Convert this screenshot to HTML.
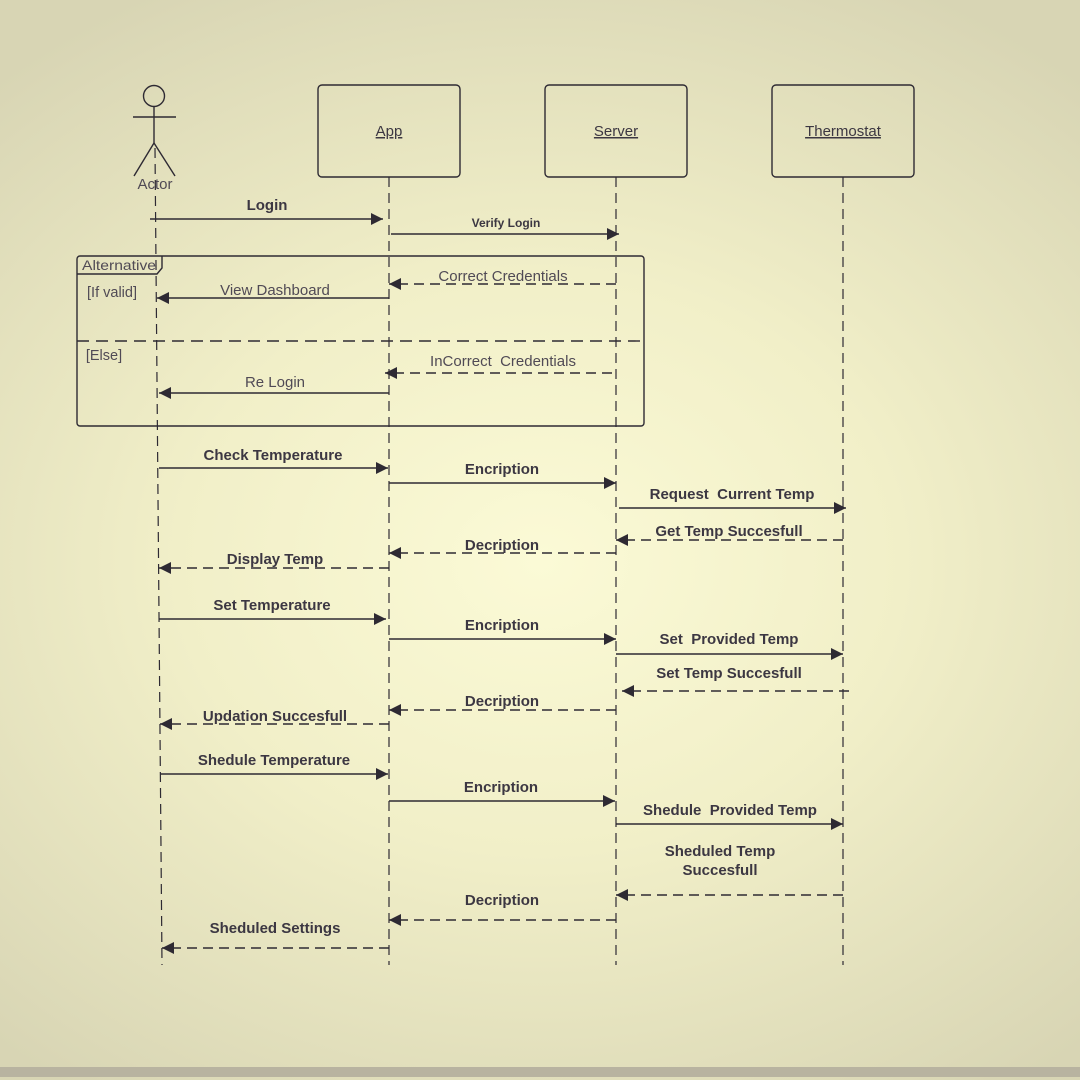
<!DOCTYPE html>
<html><head><meta charset="utf-8"><style>
html,body{margin:0;padding:0;width:1080px;height:1080px;overflow:hidden}
body{background:radial-gradient(ellipse 75% 60% at 50% 52%,#fbfad6 0%,#f1efc8 45%,#d8d5b4 100%)}
svg{position:absolute;left:0;top:0}
text{font-family:"Liberation Sans",sans-serif;fill:#3c3742;text-anchor:middle}
.b{font-weight:bold;font-size:15px}
.n{font-size:15px;fill:#504a55}
.l{stroke:#2e2a33;stroke-width:1.4;fill:none}
.d{stroke:#2e2a33;stroke-width:1.4;fill:none;stroke-dasharray:10,6}
.ll{stroke:#2e2a33;stroke-width:1.2;fill:none;stroke-dasharray:10,6}
</style></head><body>
<div style="position:absolute;left:0;top:1067px;width:1080px;height:10px;background:#b8b3a0"></div>
<svg width="1080" height="1080" viewBox="0 0 1080 1080">
<defs>
<marker id="a2" viewBox="0 0 12 12" refX="12" refY="6" markerWidth="12" markerHeight="12" markerUnits="userSpaceOnUse" orient="auto"><path d="M0,0 L12,6 L0,12z" fill="#2e2a33"/></marker></defs>
<circle cx="154" cy="96" r="10.5" class="l"/>
<line x1="154" y1="107" x2="154" y2="143" class="l"/>
<line x1="133" y1="117" x2="176" y2="117" class="l"/>
<line x1="154" y1="143" x2="134" y2="176" class="l"/>
<line x1="154" y1="143" x2="175" y2="176" class="l"/>
<text x="155" y="189" class="n" style="font-size:15px">Actor</text>
<line x1="155" y1="148" x2="162" y2="965" class="ll"/>
<rect x="318" y="85" width="142" height="92" rx="4" class="l"/>
<rect x="545" y="85" width="142" height="92" rx="4" class="l"/>
<rect x="772" y="85" width="142" height="92" rx="4" class="l"/>
<text x="389" y="136" style="font-size:15px;text-decoration:underline">App</text>
<text x="616" y="136" style="font-size:15px;text-decoration:underline">Server</text>
<text x="843" y="136" style="font-size:15px;text-decoration:underline">Thermostat</text>
<line x1="389" y1="177" x2="389" y2="965" class="ll"/>
<line x1="616" y1="177" x2="616" y2="965" class="ll"/>
<line x1="843" y1="177" x2="843" y2="965" class="ll"/>
<rect x="77" y="256" width="567" height="170" rx="3" class="l"/>
<path d="M77,274 L157,274 L162,268 L162,256" class="l"/>
<text x="119" y="270" class="n" style="font-size:14px" textLength="74" lengthAdjust="spacingAndGlyphs">Alternative</text>
<text x="112" y="297" class="n" style="font-size:14.5px">[If valid]</text>
<line x1="77" y1="341" x2="644" y2="341" class="l" style="stroke-dasharray:12,7"/>
<text x="104" y="360" class="n" style="font-size:14.5px">[Else]</text>
<line x1="150" y1="219" x2="383" y2="219" class="l" marker-end="url(#a2)"/><text x="267" y="210" class="b">Login</text>
<line x1="391" y1="234" x2="619" y2="234" class="l" marker-end="url(#a2)"/><text x="506" y="227" class="b" style="font-size:12px">Verify Login</text>
<line x1="616" y1="284" x2="389" y2="284" class="d" marker-end="url(#a2)"/><text x="503" y="281" class="n">Correct Credentials</text>
<line x1="389" y1="298" x2="157" y2="298" class="l" marker-end="url(#a2)"/><text x="275" y="295" class="n">View Dashboard</text>
<line x1="612" y1="373" x2="385" y2="373" class="d" marker-end="url(#a2)"/><text x="503" y="366" class="n">InCorrect&#160; Credentials</text>
<line x1="389" y1="393" x2="159" y2="393" class="l" marker-end="url(#a2)"/><text x="275" y="387" class="n">Re Login</text>
<line x1="159" y1="468" x2="388" y2="468" class="l" marker-end="url(#a2)"/><text x="273" y="460" class="b">Check Temperature</text>
<line x1="389" y1="483" x2="616" y2="483" class="l" marker-end="url(#a2)"/><text x="502" y="474" class="b">Encription</text>
<line x1="619" y1="508" x2="846" y2="508" class="l" marker-end="url(#a2)"/><text x="732" y="499" class="b">Request&#160; Current Temp</text>
<line x1="843" y1="540" x2="616" y2="540" class="d" marker-end="url(#a2)"/><text x="729" y="536" class="b">Get Temp Succesfull</text>
<line x1="616" y1="553" x2="389" y2="553" class="d" marker-end="url(#a2)"/><text x="502" y="550" class="b">Decription</text>
<line x1="389" y1="568" x2="159" y2="568" class="d" marker-end="url(#a2)"/><text x="275" y="564" class="b">Display Temp</text>
<line x1="159" y1="619" x2="386" y2="619" class="l" marker-end="url(#a2)"/><text x="272" y="610" class="b">Set Temperature</text>
<line x1="389" y1="639" x2="616" y2="639" class="l" marker-end="url(#a2)"/><text x="502" y="630" class="b">Encription</text>
<line x1="616" y1="654" x2="843" y2="654" class="l" marker-end="url(#a2)"/><text x="729" y="644" class="b">Set&#160; Provided Temp</text>
<line x1="849" y1="691" x2="622" y2="691" class="d" marker-end="url(#a2)"/><text x="729" y="678" class="b">Set Temp Succesfull</text>
<line x1="616" y1="710" x2="389" y2="710" class="d" marker-end="url(#a2)"/><text x="502" y="706" class="b">Decription</text>
<line x1="389" y1="724" x2="160" y2="724" class="d" marker-end="url(#a2)"/><text x="275" y="721" class="b">Updation Succesfull</text>
<line x1="160" y1="774" x2="388" y2="774" class="l" marker-end="url(#a2)"/><text x="274" y="765" class="b">Shedule Temperature</text>
<line x1="389" y1="801" x2="615" y2="801" class="l" marker-end="url(#a2)"/><text x="501" y="792" class="b">Encription</text>
<line x1="616" y1="824" x2="843" y2="824" class="l" marker-end="url(#a2)"/><text x="730" y="815" class="b">Shedule&#160; Provided Temp</text>
<line x1="843" y1="895" x2="616" y2="895" class="d" marker-end="url(#a2)"/><text x="720" y="856" class="b">Sheduled Temp</text><text x="720" y="875" class="b">Succesfull</text>
<line x1="616" y1="920" x2="389" y2="920" class="d" marker-end="url(#a2)"/><text x="502" y="905" class="b">Decription</text>
<line x1="389" y1="948" x2="162" y2="948" class="d" marker-end="url(#a2)"/><text x="275" y="933" class="b">Sheduled Settings</text>
</svg>
</body></html>
